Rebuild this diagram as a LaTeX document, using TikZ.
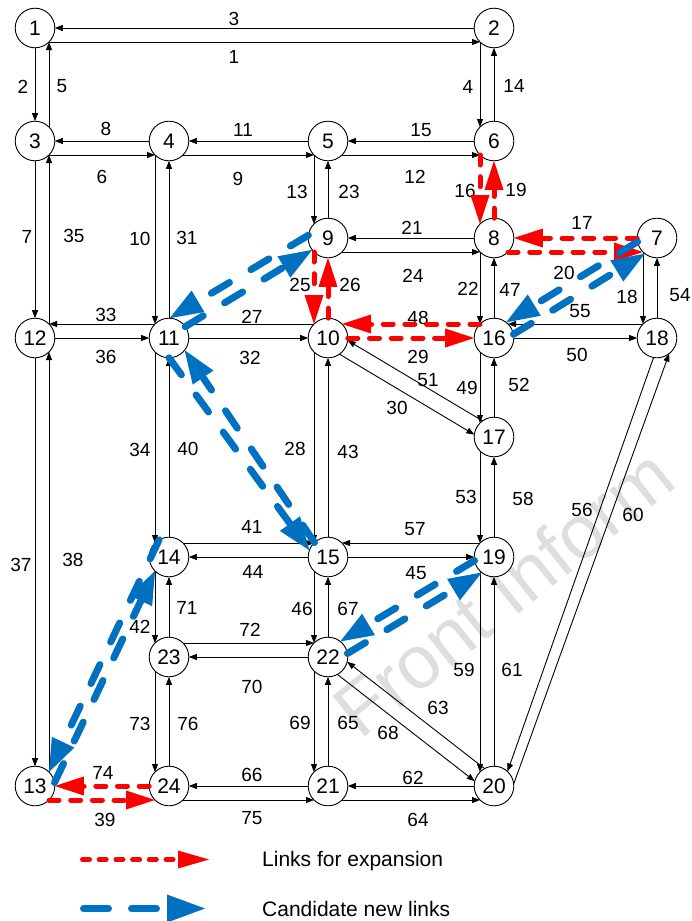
\documentclass[tikz,border=0pt]{standalone}
\usepackage{fontspec}
\setmainfont{Liberation Sans}
\usetikzlibrary{arrows.meta,calc}
\definecolor{candblue}{HTML}{0070C0}
\definecolor{expred}{HTML}{FF0000}
\newcommand{\sflink}[4]{%
  \pgfmathsetmacro\sflA{asin((#4)/19.8)}%
  \pgfmathsetmacro\sflB{-1*(\sflA)}%
  \draw[#1] ($(#2)!19.8pt!\sflA:(#3)$) -- ($(#3)!19.8pt!\sflB:(#2)$);%
}
\tikzset{
  nd/.style={circle, draw, line width=0.9pt, fill=white, minimum size=39.6pt, inner sep=0pt, outer sep=0pt, font=\fontsize{21}{21}\selectfont},
  ln/.style={line width=0.9pt, -{Triangle[length=8pt,width=6pt]}},
  ex/.style={draw=expred, line width=5pt, line cap=round, dash pattern=on 10pt off 11.7pt, -{Triangle[length=29pt,width=19pt,line width=0pt]}},
  cand/.style={draw=candblue, line width=7pt, line cap=round, dash pattern=on 21pt off 25pt, -{Triangle[length=33pt,width=25pt,line width=0pt]}},
  lb/.style={font=\fontsize{19}{19}\selectfont, inner sep=0pt},
  legtext/.style={font=\fontsize{21}{21}\selectfont, inner sep=0pt, anchor=base west},
}
\begin{document}
\begin{tikzpicture}[x=1pt,y=-1pt]
\useasboundingbox (0,0) rectangle (692,921);
\fill[white] (0,0) rectangle (692,921);
\node[rotate=38.7, text=black!13, font=\fontsize{75}{75}\selectfont, inner sep=0pt] (wm) at (503,592) {Front Inform};
% nodes
\foreach \n/\x/\y in {1/35/28, 2/494/28, 3/35/141, 4/169/141, 5/328/141, 6/494/141,
  7/657/238, 8/494/238, 9/328/238, 10/328/338, 11/169/338, 12/35/338, 13/35/786,
  14/169/557, 15/328/557, 16/494/338, 17/494/437, 18/657/338, 19/494/557,
  20/494/786, 21/328/786, 22/328/657, 23/169/657, 24/169/786}
  {\node[nd] (n\n) at (\x,\y) {\n};}
% labels
\foreach \n/\x/\y in {1/234/57, 2/23/87, 3/234/19, 4/468/87, 5/62/86, 6/102/177, 7/27/237, 8/106/129,
  9/238/179, 10/140/239, 11/243/130, 12/415/177, 13/297/192, 14/514/86, 15/421/130, 16/465/191,
  17/582/223, 18/627/297, 19/516/190, 20/564/273, 21/412/228, 22/468/289, 23/349/192, 24/413/276,
  25/300/285, 26/350/285, 27/252/317, 28/295/449, 29/418/357, 30/397/408, 31/187/238, 32/250/358,
  33/106/315, 34/140/450, 35/74/236, 36/106/357, 37/21/565, 38/73/560, 39/105/820, 40/188/449,
  41/252/527, 42/140/627, 43/348/452, 44/253/572, 45/416/573, 46/302/609, 47/510/290, 48/418/318,
  49/467/388, 50/577/355, 51/428/380, 52/519/385, 53/466/497, 54/680/295, 55/580/311, 56/582/510,
  57/415/529, 58/523/499, 59/464/670, 60/633/515, 61/512/670, 62/413/778, 63/438/708, 64/418/820,
  65/348/723, 66/252/775, 67/348/609, 68/388/733, 69/300/723, 70/252/687, 71/187/608, 72/250/630,
  73/140/724, 74/103/773, 75/252/818, 76/188/724}
  {\node[lb] (l\n) at (\x,\y) {\n};}
% horizontal links
\sflink{ln}{n2}{n1}{0}
\sflink{ln}{n1}{n2}{-14}
\sflink{ln}{n4}{n3}{0}
\sflink{ln}{n3}{n4}{-14}
\sflink{ln}{n5}{n4}{0}
\sflink{ln}{n4}{n5}{-14}
\sflink{ln}{n6}{n5}{0}
\sflink{ln}{n5}{n6}{-14}
\sflink{ln}{n8}{n9}{0}
\sflink{ln}{n9}{n8}{-14}
\sflink{ln}{n11}{n12}{-14}
\sflink{ln}{n12}{n11}{0}
\sflink{ln}{n10}{n11}{-14}
\sflink{ln}{n11}{n10}{0}
\sflink{ln}{n18}{n16}{-14}
\sflink{ln}{n16}{n18}{0}
\sflink{ln}{n14}{n15}{14}
\sflink{ln}{n15}{n14}{0}
\sflink{ln}{n19}{n15}{-14}
\sflink{ln}{n15}{n19}{0}
\sflink{ln}{n23}{n22}{14}
\sflink{ln}{n22}{n23}{0}
\sflink{ln}{n21}{n24}{0}
\sflink{ln}{n24}{n21}{-14}
\sflink{ln}{n20}{n21}{0}
\sflink{ln}{n21}{n20}{-14}
% vertical links
\sflink{ln}{n1}{n3}{0}
\sflink{ln}{n3}{n1}{-14}
\sflink{ln}{n3}{n12}{0}
\sflink{ln}{n12}{n3}{-14}
\sflink{ln}{n12}{n13}{0}
\sflink{ln}{n13}{n12}{-14}
\sflink{ln}{n2}{n6}{-14}
\sflink{ln}{n6}{n2}{0}
\sflink{ln}{n4}{n11}{-14}
\sflink{ln}{n11}{n4}{0}
\sflink{ln}{n11}{n14}{-14}
\sflink{ln}{n14}{n11}{0}
\sflink{ln}{n14}{n23}{-14}
\sflink{ln}{n23}{n14}{0}
\sflink{ln}{n23}{n24}{-14}
\sflink{ln}{n24}{n23}{0}
\sflink{ln}{n5}{n9}{-14}
\sflink{ln}{n9}{n5}{0}
\sflink{ln}{n10}{n15}{-14}
\sflink{ln}{n15}{n10}{0}
\sflink{ln}{n15}{n22}{-14}
\sflink{ln}{n22}{n15}{0}
\sflink{ln}{n22}{n21}{-14}
\sflink{ln}{n21}{n22}{0}
\sflink{ln}{n8}{n16}{-14}
\sflink{ln}{n16}{n8}{0}
\sflink{ln}{n16}{n17}{-14}
\sflink{ln}{n17}{n16}{0}
\sflink{ln}{n17}{n19}{-14}
\sflink{ln}{n19}{n17}{0}
\sflink{ln}{n19}{n20}{-14}
\sflink{ln}{n20}{n19}{0}
\sflink{ln}{n7}{n18}{-14}
\sflink{ln}{n18}{n7}{0}
% diagonal links
\sflink{ln}{n10}{n17}{-8}
\sflink{ln}{n17}{n10}{-8}
\sflink{ln}{n22}{n20}{-8}
\sflink{ln}{n20}{n22}{-8}
\draw[ln] (n18.260) -- (n20.47);
\draw[ln] (n20.6) -- (n18.308);
% links for expansion
\sflink{ex}{n7}{n8}{0}
\sflink{ex}{n8}{n7}{-14}
\sflink{ex}{n16}{n10}{-14}
\sflink{ex}{n10}{n16}{0}
\sflink{ex}{n9}{n10}{-14}
\sflink{ex}{n10}{n9}{0}
\sflink{ex}{n6}{n8}{-14}
\sflink{ex}{n8}{n6}{0}
\sflink{ex}{n24}{n13}{0}
\sflink{ex}{n13}{n24}{-14}
% candidate new links
\draw[cand] (n9.172) -- (n11.88);
\draw[cand] (n11.35) -- (n9.217);
\draw[cand] (n11.270) -- (n15.160);
\draw[cand] (n15.133) -- (n11.322);
\sflink{cand}{n16}{n7}{-7}
\sflink{cand}{n7}{n16}{-7}
\sflink{cand}{n22}{n19}{-7}
\sflink{cand}{n19}{n22}{-7}
\draw[cand] (n14.120) -- (n13.45);
\draw[cand] (n13.10) -- (n14.225);
% legend
\coordinate (lr1) at (82.5,859.5);
\coordinate (lr2) at (209,859.5);
\draw[ex, dash pattern=on 7pt off 9.7pt, -{Triangle[length=31pt,width=18pt,line width=0pt]}] (lr1) -- (lr2);
\node[legtext] (tr) at (262,866.5) {Links for expansion};
\coordinate (lb1) at (83.5,908.5);
\coordinate (lb2) at (205,908.5);
\draw[cand, dash pattern=on 25pt off 23pt, -{Triangle[length=38pt,width=28pt,line width=0pt]}] (lb1) -- (lb2);
\node[legtext] (tb) at (262,916.5) {Candidate new links};
\end{tikzpicture}
\end{document}
